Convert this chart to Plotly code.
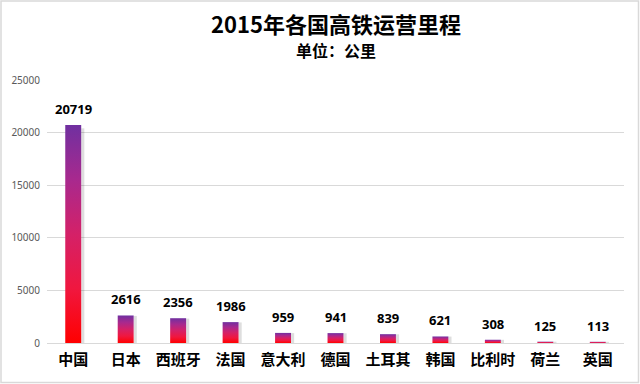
import plotly.graph_objects as go

categories = ["中国", "日本", "西班牙", "法国", "意大利", "德国", "土耳其", "韩国", "比利时", "荷兰", "英国"]
values = [20719, 2616, 2356, 1986, 959, 941, 839, 621, 308, 125, 113]
y_ticks = [0, 5000, 10000, 15000, 20000, 25000]

W, H = 640, 384
L, R, T, B = 47, 16, 80, 41
pw = W - L - R
ph = H - T - B

half = 0.152
fig = go.Figure()
grad = [[0, "#FF0000"], [0.25, "#F0173F"], [0.5, "#D42168"], [0.75, "#A8298E"], [1, "#7030A0"]]
for i, v in enumerate(values):
    fig.add_trace(go.Scatter(
        x=[i + half, i + half + 0.06, i + half + 0.06, i + half],
        y=[0, 0, v * 0.985, v * 0.985], fill="toself", mode="none",
        fillcolor="rgba(0,0,0,0.13)", hoverinfo="skip", showlegend=False))
    fig.add_trace(go.Scatter(
        x=[i - half, i + half, i + half, i - half, i - half],
        y=[0, 0, v, v, 0], fill="toself", mode="none",
        fillgradient=dict(type="vertical", colorscale=grad),
        hoverinfo="skip", showlegend=False))
    fig.add_annotation(x=i, y=v, text=f"<b>{v}</b>", showarrow=False,
                       yanchor="middle", yshift=16,
                       font=dict(family="Noto Sans", size=13, color="#000000"))

fig.add_annotation(xref="paper", yref="paper", x=0.5, y=1 + (T - 23) / ph,
                   xanchor="center", yanchor="middle", showarrow=False,
                   text="<b>2015年各国高铁运营里程</b>",
                   font=dict(family="Noto Sans CJK SC", size=22, color="#000000"))
fig.add_annotation(xref="paper", yref="paper", x=0.5, y=1 + (T - 50) / ph,
                   xanchor="center", yanchor="middle", showarrow=False,
                   text="<b>单位：公里</b>",
                   font=dict(family="Noto Sans CJK SC", size=16, color="#000000"))

fig.update_layout(
    width=W, height=H,
    margin=dict(l=L, r=R, t=T, b=B),
    paper_bgcolor="white", plot_bgcolor="white",
    xaxis=dict(range=[-0.5, len(categories) - 0.5], tickmode="array",
               tickvals=list(range(len(categories))),
               ticktext=[f"<b>{c}</b>" for c in categories],
               showgrid=False, zeroline=False, showline=False, ticks="",
               ticklabelstandoff=6,
               tickfont=dict(family="Noto Sans CJK SC", size=15, color="#000000")),
    yaxis=dict(range=[0, 25000], tickvals=y_ticks, tickformat="d", showgrid=True,
               gridcolor="#D9D9D9", gridwidth=1, zeroline=True, zerolinecolor="#D9D9D9",
               zerolinewidth=1, showline=False, ticks="", ticklabelstandoff=6,
               tickfont=dict(family="Noto Sans", size=10, color="#595959")),
)
fig.add_shape(type="rect", xref="paper", yref="paper",
              x0=(-L + 1) / pw, x1=1 + (R - 1.5) / pw,
              y0=(-B + 1.5) / ph, y1=1 + (T - 1) / ph,
              line=dict(color="#D9D9D9", width=1.5), fillcolor="rgba(0,0,0,0)", layer="below")
fig.write_html("out.html", config={"displayModeBar": False},
               post_script="document.body.style.margin='0';")
